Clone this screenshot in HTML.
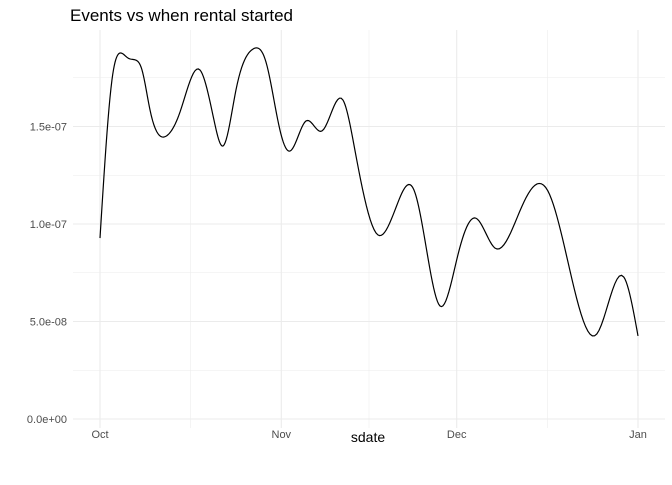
<!DOCTYPE html>
<html><head><meta charset="utf-8"><style>
body{margin:0;background:#fff;font-family:"Liberation Sans",sans-serif}
</style></head><body>
<svg id="chart" width="672" height="480" xmlns="http://www.w3.org/2000/svg" font-family="Liberation Sans, sans-serif">
<text x="70" y="21" font-size="17" fill="#000">Events vs when rental started</text>
<g id="grid"></g><g id="axes"></g>
<path id="curve" fill="none" stroke="#000" stroke-width="1.2"/>
<text x="368" y="442" font-size="14" text-anchor="middle" fill="#000">sdate</text>
</svg>
<script>
const days=[0,2.05,3.59,4.79,6.15,7.18,8.55,11.28,13.68,17.09,19.49,21.03,23.25,26.15,28.38,30.77,32.48,35.21,37.95,41.54,43.59,47.52,50.94,53.68,55.56,58.12,61.2,64.27,67.52,72.14,76.58,80.34,84.96,89.57,92];
const values=[9.28e-8,1.74e-7,1.877e-7,1.851e-7,1.84e-7,1.79e-7,1.585e-7,1.45e-7,1.574e-7,1.79e-7,1.533e-7,1.40e-7,1.687e-7,1.897e-7,1.831e-7,1.482e-7,1.374e-7,1.528e-7,1.477e-7,1.636e-7,1.379e-7,9.44e-8,1.11e-7,1.175e-7,9.18e-8,5.8e-8,8.41e-8,1.03e-7,8.77e-8,1.09e-7,1.17e-7,7.64e-8,4.36e-8,7.28e-8,4.26e-8];
const xTickDays=[0,31,61,92];
const xTickLabels=["Oct","Nov","Dec","Jan"];
const yTicks=[0,5e-8,1e-7,1.5e-7];
const yTickLabels=["0.0e+00","5.0e-08","1.0e-07","1.5e-07"];
const NS="http://www.w3.org/2000/svg";
const xS=d=>100+d*(538/92);
const yS=v=>419-v/5e-8*97.5;
const grid=document.getElementById('grid'),axes=document.getElementById('axes');
function ln(x1,y1,x2,y2,w,name){const l=document.createElementNS(NS,'line');
l.setAttribute('x1',x1);l.setAttribute('y1',y1);l.setAttribute('x2',x2);l.setAttribute('y2',y2);
l.setAttribute('stroke','#ebebeb');l.setAttribute('stroke-width',w);


grid.appendChild(l);}
yTicks.forEach((v,i)=>{ln(73,yS(v),665,yS(v),1.1,'y-gridline');
ln(73,yS(v+2.5e-8),665,yS(v+2.5e-8),0.55,'y-minor-gridline');
const t=document.createElementNS(NS,'text');t.setAttribute('x',67);t.setAttribute('y',yS(v)+4);
t.setAttribute('font-size','11');t.setAttribute('fill','#4d4d4d');t.setAttribute('text-anchor','end');
t.textContent=yTickLabels[i];


axes.appendChild(t);});
xTickDays.forEach((d,i)=>{ln(xS(d),30,xS(d),428,1.1,'x-gridline');
if(i<xTickDays.length-1)ln(xS((d+xTickDays[i+1])/2),30,xS((d+xTickDays[i+1])/2),428,0.55,'x-minor-gridline');
const t=document.createElementNS(NS,'text');t.setAttribute('x',xS(d));t.setAttribute('y',438);
t.setAttribute('font-size','11');t.setAttribute('fill','#4d4d4d');t.setAttribute('text-anchor','middle');
t.textContent=xTickLabels[i];


axes.appendChild(t);});
// natural cubic spline y(x)
const X=days.map(xS),Y=values.map(yS),n=X.length;
const h=[],al=[0],l=[1],mu=[0],z=[0],c=new Array(n).fill(0),b=[],dd=[];
for(let i=0;i<n-1;i++)h.push(X[i+1]-X[i]);
for(let i=1;i<n-1;i++)al.push(3/h[i]*(Y[i+1]-Y[i])-3/h[i-1]*(Y[i]-Y[i-1]));
for(let i=1;i<n-1;i++){l[i]=2*(X[i+1]-X[i-1])-h[i-1]*mu[i-1];mu[i]=h[i]/l[i];z[i]=(al[i]-h[i-1]*z[i-1])/l[i];}
for(let j=n-2;j>=0;j--){c[j]=(j>0?z[j]-mu[j]*c[j+1]:0);b[j]=(Y[j+1]-Y[j])/h[j]-h[j]*(c[j+1]+2*c[j])/3;dd[j]=(c[j+1]-c[j])/(3*h[j]);}
c[0]=0;for(let j=0;j<n-1;j++){b[j]=(Y[j+1]-Y[j])/h[j]-h[j]*(c[j+1]+2*c[j])/3;dd[j]=(c[j+1]-c[j])/(3*h[j]);}
let dstr='';
for(let j=0;j<n-1;j++){for(let s=0;s<=12;s++){const t=h[j]*s/12;
const yy=Y[j]+b[j]*t+c[j]*t*t+dd[j]*t*t*t;dstr+=(dstr?' L':'M')+(X[j]+t).toFixed(2)+','+yy.toFixed(2);}}
document.getElementById('curve').setAttribute('d',dstr);
</script>
</body></html>
